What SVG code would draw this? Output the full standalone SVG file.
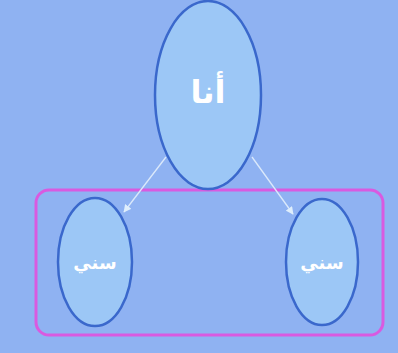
<svg xmlns="http://www.w3.org/2000/svg" width="398" height="353" viewBox="0 0 398 353">
<defs>
<marker id="ah" viewBox="0 0 10 10" refX="9" refY="5" markerWidth="6" markerHeight="6" orient="auto"><path d="M0,0 L10,5 L0,10 z" fill="#dfeefc"/></marker>
<style>
.node{fill:#9cc7f6;stroke:#3a68cc;stroke-width:2.5}
.lbl{fill:#ffffff;font-family:"DejaVu Sans","Noto Sans",sans-serif;font-weight:bold;text-anchor:middle;dominant-baseline:central}
.edge{stroke:#dbe9fb;stroke-width:1.3;fill:none;marker-end:url(#ah)}
</style>
</defs>
<rect width="398" height="353" fill="#8fb2f2"/>
<rect x="36" y="190" width="347" height="145" rx="13" fill="none" stroke="#d95ae0" stroke-width="3"/>
<g id="connectors">
<line class="edge" x1="166" y1="157" x2="124" y2="212"/>
<line class="edge" x1="252" y1="157" x2="293" y2="214"/>
</g>
<g id="n-ana">
<ellipse class="node" cx="208" cy="95" rx="53" ry="94"/>
<text class="lbl" x="208" y="92" font-size="32">أنا</text>
</g>
<g id="n-left">
<ellipse class="node" cx="95" cy="262" rx="37" ry="64"/>
<text class="lbl" x="95" y="262" font-size="18">سني</text>
</g>
<g id="n-right">
<ellipse class="node" cx="322" cy="262" rx="36" ry="63"/>
<text class="lbl" x="322" y="262" font-size="18">سني</text>
</g>
</svg>
